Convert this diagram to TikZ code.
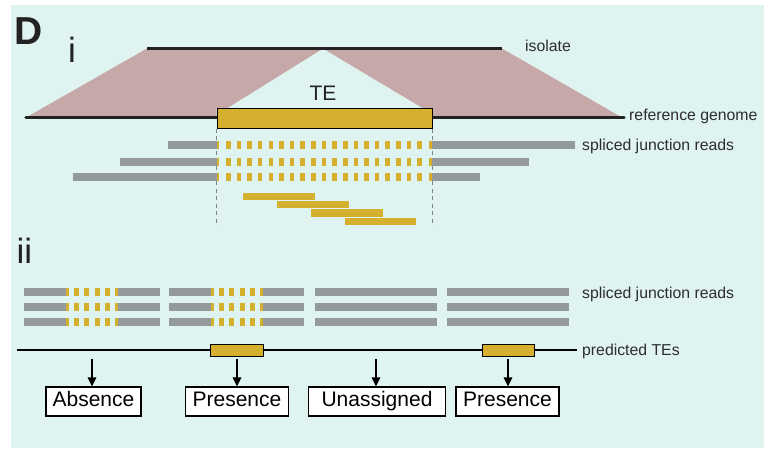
\documentclass[tikz,border=0pt]{standalone}
\usepackage{fontspec}
\setmainfont{Liberation Sans}
\usetikzlibrary{arrows.meta}
\definecolor{bgcyan}{RGB}{223,243,241}
\definecolor{pinkfill}{RGB}{198,168,168}
\definecolor{teGold}{RGB}{213,175,46}
\definecolor{readGrey}{RGB}{148,154,155}
\definecolor{inkDark}{RGB}{34,34,34}
\definecolor{labelInk}{RGB}{45,45,45}
\definecolor{guideGrey}{RGB}{128,132,132}

\tikzset{
  sidelabel/.style={anchor=base west, inner sep=0pt, text=labelInk,
    font=\fontsize{15.8}{18}\selectfont},
  romanlabel/.style={anchor=base west, inner sep=0pt, text=inkDark,
    font=\fontsize{35}{40}\selectfont},
  tebox/.style={draw=black, line width=1pt, fill=teGold, inner sep=0pt, anchor=north west},
  callbox/.style={draw=black, line width=1.1pt, fill=white, inner sep=0pt,
    text height=19pt, text depth=10pt, anchor=base, text=black,
    font=\fontsize{21}{24}\selectfont},
  callarrow/.style={line width=1.4pt, -{Triangle[width=8.5pt,length=9pt]}},
  guide/.style={guideGrey, line width=0.9pt, dash pattern=on 4pt off 3.5pt},
}

% one spliced read: grey flank, gold dashes across [a,b], grey flank
\newcommand{\goldDashesI}[3]{% y, a, b  (panel i spacing)
  \fill[teGold] (#2,#1-3.9) rectangle (#2+2.7,#1+3.9);
  \foreach \k in {0,...,18}{\fill[teGold] (#2+9.3+10.63*\k,#1-3.9) rectangle (#2+13.9+10.63*\k,#1+3.9);}
  \fill[teGold] (#3-3.2,#1-3.9) rectangle (#3,#1+3.9);}
\newcommand{\goldDashesII}[3]{% y, a, b  (panel ii spacing)
  \fill[teGold] (#2,#1-4) rectangle (#2+3.3,#1+4);
  \foreach \k in {0,...,3}{\fill[teGold] (#2+8.3+10.4*\k,#1-4) rectangle (#2+13+10.4*\k,#1+4);}
  \fill[teGold] (#3-3,#1-4) rectangle (#3,#1+4);}

\begin{document}
\begin{tikzpicture}[x=1pt,y=-1pt]
\useasboundingbox (0,0) rectangle (764,448);
\fill[bgcyan] (11,5) rectangle (764,448);

% ---------- panel labels ----------
\node[anchor=base west, inner sep=0pt, text=inkDark,
      font=\bfseries\fontsize{39}{44}\selectfont] (panelD) at (13.8,44) {D};
\node[romanlabel] (romI) at (68,62.5) {i};
\node[romanlabel] (romII) at (16.5,263) {ii};

% ---------- panel i: alignment of isolate against reference ----------
\fill[pinkfill] (26,117.5) -- (147,48.5) -- (323,48.5) -- (227,108.3)
  -- (216.7,108.3) -- (216.7,117.5) -- cycle;
\fill[pinkfill] (323,48.5) -- (502,48.5) -- (622,117.5) -- (431.7,117.5)
  -- (431.7,108.3) -- (423,108.3) -- cycle;

\draw[inkDark, line width=3pt] (147,48.5) -- (502,48.5);
\draw[inkDark, line width=3.3pt, line cap=round] (26,117.5) -- (624,117.5);

\node[tebox, minimum width=215pt, minimum height=19.4pt] (teI) at (216.7,108.3) {};
\node[anchor=base, inner sep=0pt, text=inkDark, font=\fontsize{21}{24}\selectfont]
  (teLabel) at (323,100) {TE};

\node[sidelabel] (isoLab) at (525,51) {isolate};
\node[sidelabel] (refLab) at (629,120.8) {reference genome};
\node[sidelabel] (sjrLabI) at (582,150.3) {spliced junction reads};

% TE boundary guides
\draw[guide] (teI.south west) -- ++(0,97.5);
\draw[guide] (teI.south east) -- ++(0,97.5);

% spliced junction reads spanning the TE
\foreach \y/\l/\r in {145/168.3/575, 161.7/120/529, 176.8/73.3/480}{
  \fill[readGrey] (\l,\y-3.9) rectangle (216.7,\y+3.9);
  \fill[readGrey] (431.7,\y-3.9) rectangle (\r,\y+3.9);
  \goldDashesI{\y}{216.7}{431.7}
}

% reads inside the TE
\fill[teGold] (243.3,192.7) rectangle (315,200);
\fill[teGold] (277.3,201) rectangle (349,208.3);
\fill[teGold] (311,209.3) rectangle (382.7,216.7);
\fill[teGold] (345,217.7) rectangle (416.3,225);

% ---------- panel ii: calling presence / absence ----------
\foreach \y in {291.7, 306.7, 321.7}{
  \fill[readGrey] (24.3,\y-4) rectangle (65.7,\y+4);
  \goldDashesII{\y}{65.7}{118.3}
  \fill[readGrey] (118.3,\y-4) rectangle (160,\y+4);
  \fill[readGrey] (169,\y-4) rectangle (210.7,\y+4);
  \goldDashesII{\y}{210.7}{263.3}
  \fill[readGrey] (263.3,\y-4) rectangle (304.3,\y+4);
  \fill[readGrey] (315,\y-4) rectangle (437,\y+4);
  \fill[readGrey] (447,\y-4) rectangle (569,\y+4);
}
\node[sidelabel] (sjrLabII) at (582,298.3) {spliced junction reads};

\coordinate (predStart) at (17.3,350);
\coordinate (predEnd) at (577,350);
\draw[black, line width=2pt] (predStart) -- (predEnd);
\node[tebox, minimum width=53.3pt, minimum height=12pt] (teA) at (210,344.3) {};
\node[tebox, minimum width=52.3pt, minimum height=12pt] (teB) at (481.7,344.3) {};
\node[sidelabel] (predLab) at (582,355) {predicted TEs};

% outcome boxes
\node[callbox, minimum width=95pt] (absBox) at (93.5,406) {Absence};
\node[callbox, minimum width=102.6pt] (presBoxA) at (237,406) {Presence};
\node[callbox, minimum width=137.4pt] (unBox) at (377,406) {Unassigned};
\node[callbox, minimum width=103pt] (presBoxB) at (507.5,406) {Presence};

\coordinate (srcAbs) at (92,359);
\coordinate (srcPresA) at (237,359);
\coordinate (srcUn) at (376,359);
\coordinate (srcPresB) at (508,359);
\draw[callarrow] (srcAbs) -- (srcAbs |- absBox.north);
\draw[callarrow] (srcPresA) -- (srcPresA |- presBoxA.north);
\draw[callarrow] (srcUn) -- (srcUn |- unBox.north);
\draw[callarrow] (srcPresB) -- (srcPresB |- presBoxB.north);
\end{tikzpicture}
\end{document}
